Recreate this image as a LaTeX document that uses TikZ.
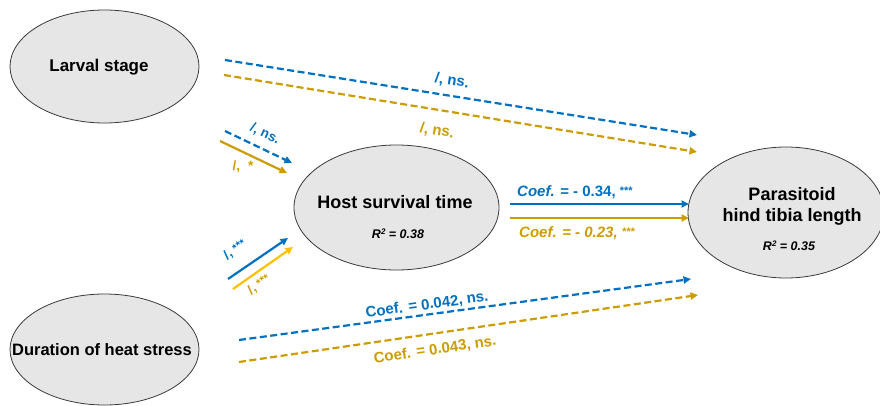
\documentclass[tikz,border=0pt]{standalone}
\usepackage{fontspec}
\setmainfont{Liberation Sans}
\usetikzlibrary{arrows.meta,shapes.geometric}
\definecolor{cblue}{HTML}{0070C0}
\definecolor{cgold}{HTML}{CC9C00}
\definecolor{cyell}{HTML}{FFC000}
\definecolor{cfill}{HTML}{E6E6E6}
\definecolor{cedge}{HTML}{3A3A3A}
\tikzset{
  oval/.style={ellipse, draw=cedge, line width=0.8pt, fill=cfill, inner sep=0pt},
  conn/.style={line width=2.2pt, -{Triangle[length=7.5pt,width=7pt]}},
  dashconn/.style={conn, dash pattern=on 7pt off 3.5pt},
  bigtxt/.style={font=\fontsize{18}{21}\selectfont\bfseries, align=center},
  midtxt/.style={font=\fontsize{16.5}{19}\selectfont\bfseries},
  rtxt/.style={font=\fontsize{12.5}{14}\selectfont\bfseries\itshape},
  lab/.style={font=\fontsize{15}{17}\selectfont\bfseries, inner sep=0pt},
  slab/.style={font=\fontsize{13.5}{15}\selectfont\bfseries, inner sep=0pt},
}
\newcommand{\stars}[1]{\raisebox{0.2ex}{\fontsize{11}{11}\selectfont #1}}
\newcommand{\sqr}{\raisebox{0.6ex}{\fontsize{8}{8}\selectfont 2}}
\begin{document}
\begin{tikzpicture}[x=1pt,y=-1pt]
\useasboundingbox (0,0) rectangle (880,406);
% nodes
\node[oval, minimum width=189pt, minimum height=113pt] (L) at (104.5,66.5) {};
\node[midtxt, font=\fontsize{17}{19}\selectfont\bfseries] (Lt) at (99,67) {Larval stage};
\node[oval, minimum width=189pt, minimum height=111pt] (D) at (104.5,349.5) {};
\node[midtxt] (Dt) at (102,350) {Duration of heat stress};
\node[oval, minimum width=205pt, minimum height=125pt] (H) at (396.5,207.5) {};
\node[bigtxt] (Ht) at (395,202) {Host survival time};
\node[rtxt] (Hr) at (398,234) {R\sqr{} = 0.38};
\node[oval, minimum width=196pt, minimum height=131pt] (P) at (786,212.5) {};
\node[bigtxt] (Pt) at (792,206) {Parasitoid\\hind tibia length};
\node[rtxt] (Pr) at (789,246) {R\sqr{} = 0.35};
% coordinates
\coordinate (a1) at (225,60);  \coordinate (b1) at (697,135);
\coordinate (a2) at (224,75);  \coordinate (b2) at (697,152);
\coordinate (a3) at (225,131); \coordinate (b3) at (292,163);
\coordinate (a4) at (220,141); \coordinate (b4) at (287,173);
\coordinate (a5) at (228,279); \coordinate (b5) at (288,238);
\coordinate (a6) at (233,289); \coordinate (b6) at (293,247);
\coordinate (a7) at (510,204); \coordinate (b7) at (689,204);
\coordinate (a8) at (510,218); \coordinate (b8) at (689,218);
\coordinate (a9) at (239,340); \coordinate (b9) at (691,279);
\coordinate (a10) at (239,362); \coordinate (b10) at (698,295);
% connectors
\draw[dashconn, cblue] (a1) -- (b1);
\draw[dashconn, cgold] (a2) -- (b2);
\draw[dashconn, cblue] (a3) -- (b3);
\draw[conn, cgold] (a4) -- (b4);
\draw[conn, cblue] (a5) -- (b5);
\draw[conn, cyell] (a6) -- (b6);
\draw[conn, cblue] (a7) -- (b7);
\draw[conn, cgold] (a8) -- (b8);
\draw[dashconn, cblue] (a9) -- (b9);
\draw[dashconn, cgold] (a10) -- (b10);
% labels
\node[lab, cblue, rotate=-9.1] (l1) at (452,81) {/, ns.};
\node[lab, cgold, rotate=-9.3] (l2) at (437,131) {/, ns.};
\node[slab, cblue, rotate=-26] (l3) at (265,134) {/, ns.};
\node[slab, cgold] (l4) at (243,167) {/,\hspace{0.6em}*};
\node[slab, cblue, rotate=35] (l5) at (235,250) {/, \stars{***}};
\node[slab, cgold, rotate=35] (l6) at (259,285) {/, \stars{***}};
\node[lab, cblue] (l7) at (575,192) {\textit{Coef.} = - 0.34, \stars{***}};
\node[lab, cgold] (l8) at (577,233) {\itshape Coef. = - 0.23, \stars{***}};
\node[lab, cblue, rotate=7.7] (l9) at (427,305) {Coef. = 0.042, ns.};
\node[lab, cgold, rotate=8.3] (l10) at (435,350) {Coef. = 0.043, ns.};
\end{tikzpicture}
\end{document}
